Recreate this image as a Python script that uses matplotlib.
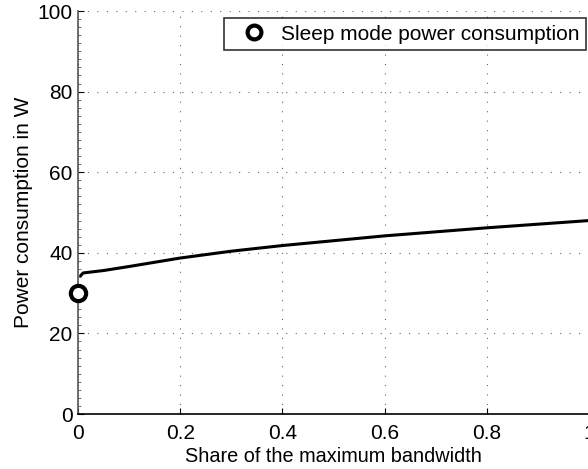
import matplotlib
matplotlib.use("Agg")
import matplotlib.pyplot as plt
from matplotlib.ticker import MultipleLocator

plt.rcParams['font.family'] = ['Liberation Sans', 'DejaVu Sans']

# data
share = [0.005, 0.01, 0.05, 0.1, 0.2, 0.3, 0.4, 0.5, 0.6, 0.7, 0.8, 0.9, 1.0]
power = [34.3, 35.0, 35.6, 36.6, 38.7, 40.4, 41.8, 43.0, 44.2, 45.2, 46.2, 47.1, 48.0]
sleep_x = [0]
sleep_y = [30]
xticks = [0, 0.2, 0.4, 0.6, 0.8, 1]
yticks = [0, 20, 40, 60, 80, 100]

fig = plt.figure(figsize=(5.88, 4.69), dpi=100)
# axes run a little past the right edge, as in the cropped original
ax = fig.add_axes([78 / 588, 55 / 469, 511 / 588, 403 / 469])

ax.plot(share, power, color='black', lw=2.2, solid_capstyle='round')
ax.plot(sleep_x, sleep_y, 'o', ms=11, mfc='white', mec='black', mew=3,
        label='Sleep mode power consumption', clip_on=False, zorder=5)

ax.set_xlim(0, 1)
ax.set_ylim(0, 100)
ax.set_xticks(xticks)
ax.set_xticklabels(['0', '0.2', '0.4', '0.6', '0.8', '1'])
ax.set_yticks(yticks)
ax.yaxis.set_minor_locator(MultipleLocator(2))
ax.tick_params(direction='in', labelsize=15, length=4, width=0.8)
ax.tick_params(which='minor', direction='in', length=2, width=0.6, color='#555555')
ax.tick_params(axis='x', pad=7)
ax.tick_params(axis='y', pad=4)
ax.grid(True, linestyle=(0, (1, 7.5)), color='#666666', lw=0.8)
for s in ['top', 'right']:
    ax.spines[s].set_visible(False)
ax.spines['bottom'].set_linewidth(1.2)
ax.spines['left'].set_linewidth(1.2)
ax.spines['left'].set_color('#555555')

ax.set_xlabel('Share of the maximum bandwidth', fontsize=14.3, labelpad=3)
ax.set_ylabel('Power consumption in W', fontsize=15, labelpad=3)

leg = ax.legend(loc='upper right', bbox_to_anchor=(0.994, 0.983), fontsize=15,
                frameon=True, fancybox=False, edgecolor='black', handletextpad=0.2,
                borderpad=0.32, handlelength=2.2, markerscale=0.9,
                borderaxespad=0.0)
leg.get_frame().set_linewidth(1.2)

fig.savefig('out.png', dpi=100)
